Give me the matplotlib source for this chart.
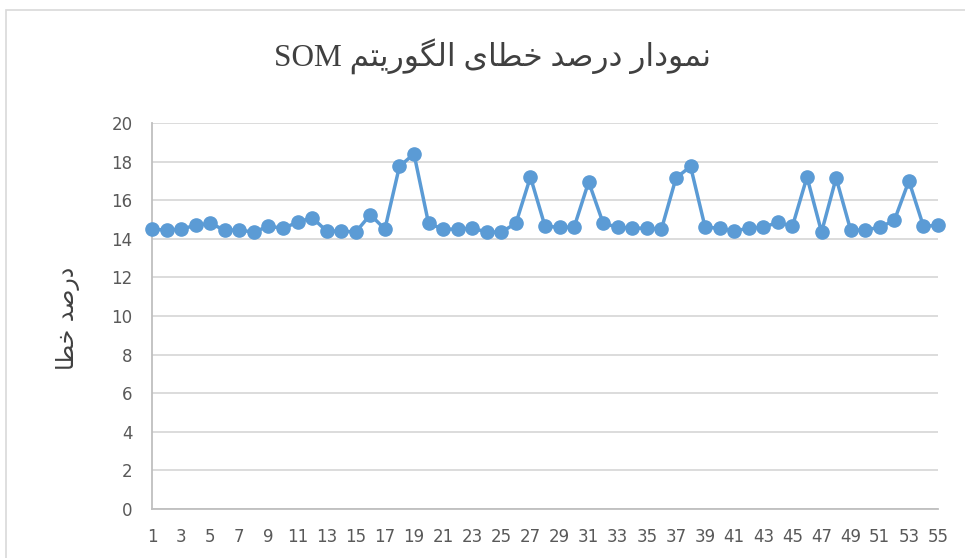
import numpy as np
import matplotlib
matplotlib.use("Agg")
import matplotlib.pyplot as plt
from matplotlib.patches import Rectangle

# error percent per run
runs = list(range(1, 56))
error_pct = [14.5, 14.45, 14.5, 14.7, 14.8, 14.45, 14.45, 14.35, 14.65, 14.55,
             14.85, 15.1, 14.4, 14.4, 14.35, 15.25, 14.5, 17.75, 18.4, 14.8,
             14.5, 14.5, 14.55, 14.35, 14.35, 14.8, 17.2, 14.65, 14.6, 14.6,
             16.95, 14.8, 14.6, 14.55, 14.55, 14.5, 17.15, 17.75, 14.6, 14.55,
             14.4, 14.55, 14.6, 14.85, 14.65, 17.2, 14.35, 17.15, 14.45, 14.45,
             14.6, 14.95, 17.0, 14.65, 14.7]
y_ticks = list(range(0, 21, 2))
x_ticks = list(range(1, 56, 2))

# Arabic written in presentation forms, visual (left-to-right) order,
# since matplotlib does no shaping / bidi
w_nemoodar = "\ufead\ufe8d\ufea9\ufeee\ufee4\ufee7"       # نمودار
w_darsad = "\ufeaa\ufebb\ufead\ufea9"                      # درصد
w_khataye = "\ufbfc\ufe8e\ufec4\ufea7"                     # خطای
w_khata = "\ufe8e\ufec4\ufea7"                             # خطا
w_algorithm = "\ufee2\ufe98\ufbfe\ufead\ufeee\ufb95\ufedf\ufe8d"  # الگوریتم
title_txt = "SOM " + " ".join([w_algorithm, w_khataye, w_darsad, w_nemoodar])
ylabel_txt = w_khata + " " + w_darsad

plt.rcParams['font.family'] = ['DejaVu Sans']

fig = plt.figure(figsize=(9.65, 5.58), dpi=100)
ax = fig.add_axes([152/965, 1 - 509/558, (938-152)/965, (509-123)/558])

# chart frame
fig.patches.append(Rectangle((6/965, -0.1), 1.2, 1 - 10/558 + 0.1,
                             transform=fig.transFigure, fill=False,
                             edgecolor='#d9d9d9', linewidth=1.2))

ax.plot(runs, error_pct, color='#5b9bd5', lw=2.5, marker='o', ms=9.5,
        clip_on=False, zorder=3)

ax.set_xlim(1, 55)
ax.set_ylim(0, 20)
ax.set_yticks(y_ticks)
ax.set_xticks(x_ticks)
ax.grid(axis='y', color='#d9d9d9', lw=1.3)
ax.set_axisbelow(True)
for s in ['top', 'right']:
    ax.spines[s].set_visible(False)
ax.spines['left'].set_color('#bfbfbf')
ax.spines['bottom'].set_color('#bfbfbf')
ax.spines['left'].set_linewidth(1.3)
ax.spines['bottom'].set_linewidth(1.3)
ax.tick_params(length=0, labelsize=12, colors='#595959')
ax.tick_params(axis='y', pad=14)
ax.tick_params(axis='x', pad=14)

fig.text(492/965, 1 - 57/558, title_txt, ha='center', va='center',
         fontsize=22.5, color='#404040',
         family=['Liberation Serif', 'DejaVu Sans'])
fig.text(68/965, 1 - 318/558, ylabel_txt, ha='center', va='center',
         rotation=90, fontsize=17, color='#404040')

fig.savefig('out.png', dpi=100)
